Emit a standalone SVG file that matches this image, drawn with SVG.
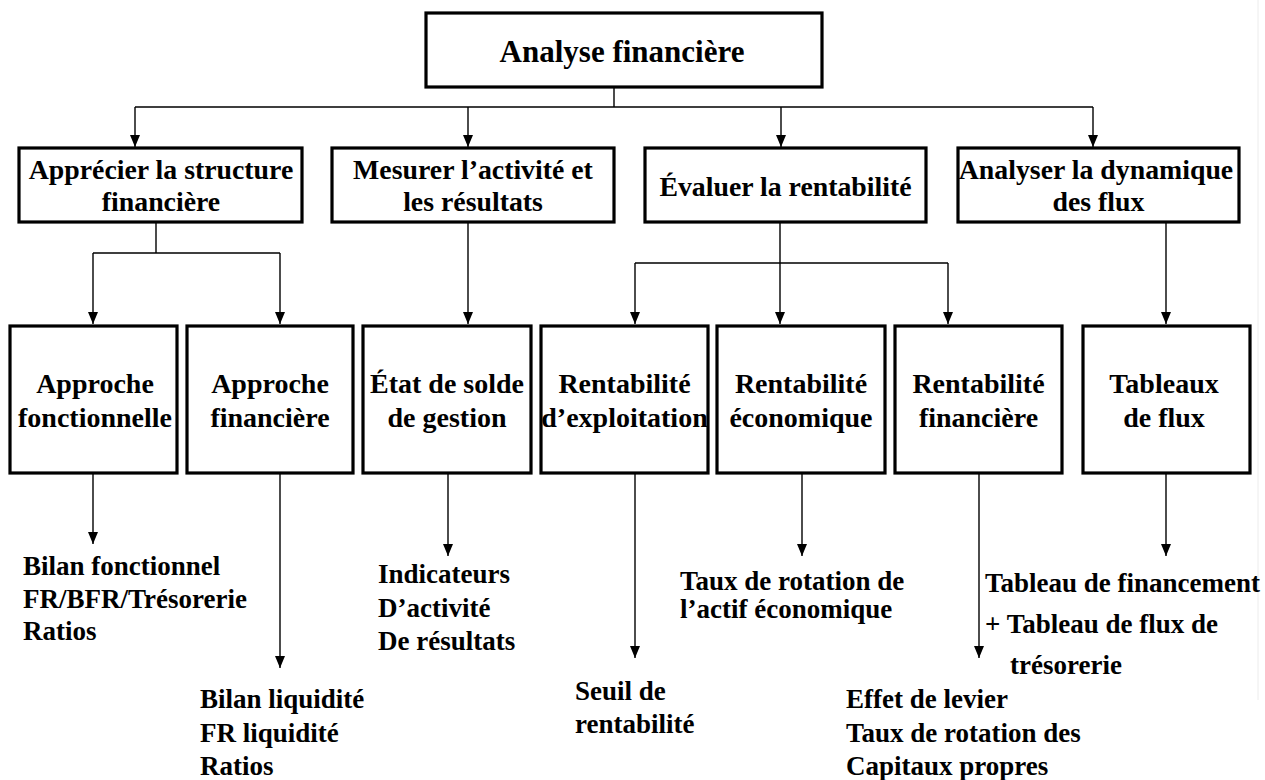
<svg xmlns="http://www.w3.org/2000/svg" width="1265" height="780" viewBox="0 0 1265 780">
<style>
  .box { fill: #ffffff; stroke: #000000; stroke-width: 3.2; }
  .t { font-family: 'Liberation Serif', 'DejaVu Serif', serif; font-weight: bold; fill: #000000; }
  .top { font-size: 31px; text-anchor: middle; }
  .r2 { font-size: 27.8px; text-anchor: middle; }
  .r3 { font-size: 28px; text-anchor: middle; }
  .leaf { font-size: 27px; }
  .conn { fill: none; stroke: #000000; stroke-width: 1.4; }
  .arr { marker-end: url(#ah); }
</style>
<defs>
  <marker id="ah" markerUnits="userSpaceOnUse" markerWidth="12" markerHeight="10" refX="12" refY="5" orient="auto" viewBox="0 0 12 10">
    <path d="M0,0 L12,5 L0,10 z" fill="#000000"/>
  </marker>
</defs>
<rect x="0" y="0" width="1265" height="780" fill="#ffffff"/>
<line x1="1258" y1="0" x2="1258" y2="700" stroke="#ececec" stroke-width="1"/>

<g id="connectors">
  <path class="conn" d="M614,87 V107 M135,107 H1093"/>
  <path class="conn arr" d="M135,107 V147"/>
  <path class="conn arr" d="M468,107 V147"/>
  <path class="conn arr" d="M781,107 V147"/>
  <path class="conn arr" d="M1093,107 V147"/>
  <path class="conn" d="M156,222 V253 M93,253 H280"/>
  <path class="conn arr" d="M93,253 V324"/>
  <path class="conn arr" d="M280,253 V324"/>
  <path class="conn arr" d="M468,222 V324"/>
  <path class="conn" d="M780,222 V263 M635,263 H948"/>
  <path class="conn arr" d="M635,263 V324"/>
  <path class="conn arr" d="M780,263 V324"/>
  <path class="conn arr" d="M948,263 V324"/>
  <path class="conn arr" d="M1166,222 V324"/>
  <path class="conn arr" d="M93,473 V544"/>
  <path class="conn arr" d="M280,473 V668"/>
  <path class="conn arr" d="M448,473 V556"/>
  <path class="conn arr" d="M635,473 V658"/>
  <path class="conn arr" d="M802,473 V556"/>
  <path class="conn arr" d="M979,473 V658"/>
  <path class="conn arr" d="M1166,473 V556"/>
</g>

<g id="n-analyse">
  <rect class="box" x="426" y="13" width="396" height="74"/>
  <text class="t top" x="622" y="62">Analyse financière</text>
</g>

<g id="n-structure">
  <rect class="box" x="19" y="148" width="283" height="74"/>
  <text class="t r2" x="161" y="179">Apprécier la structure</text>
  <text class="t r2" x="161" y="211">financière</text>
</g>
<g id="n-activite">
  <rect class="box" x="332" y="148" width="282" height="74"/>
  <text class="t r2" x="473" y="179">Mesurer l’activité et</text>
  <text class="t r2" x="473" y="211">les résultats</text>
</g>
<g id="n-rentabilite">
  <rect class="box" x="645" y="148" width="281" height="74"/>
  <text class="t r2" x="785.5" y="196">Évaluer la rentabilité</text>
</g>
<g id="n-flux">
  <rect class="box" x="958" y="148" width="281" height="74"/>
  <text class="t r2" x="1096" y="179">Analyser la dynamique</text>
  <text class="t r2" x="1098.5" y="211">des flux</text>
</g>

<g id="n-fonctionnelle">
  <rect class="box" x="10" y="326" width="167" height="147"/>
  <text class="t r3" x="95" y="393">Approche</text>
  <text class="t r3" x="95" y="427">fonctionnelle</text>
</g>
<g id="n-financiere">
  <rect class="box" x="187" y="326" width="166" height="147"/>
  <text class="t r3" x="270" y="393">Approche</text>
  <text class="t r3" x="270" y="427">financière</text>
</g>
<g id="n-sig">
  <rect class="box" x="363" y="326" width="168" height="147"/>
  <text class="t r3" x="447" y="393">État de solde</text>
  <text class="t r3" x="447" y="427">de gestion</text>
</g>
<g id="n-exploitation">
  <rect class="box" x="541" y="326" width="167" height="147"/>
  <text class="t r3" x="624.5" y="393">Rentabilité</text>
  <text class="t r3" x="624.5" y="427">d’exploitation</text>
</g>
<g id="n-economique">
  <rect class="box" x="717" y="326" width="168" height="147"/>
  <text class="t r3" x="801" y="393">Rentabilité</text>
  <text class="t r3" x="801" y="427">économique</text>
</g>
<g id="n-rfinanciere">
  <rect class="box" x="895" y="326" width="167" height="147"/>
  <text class="t r3" x="978.5" y="393">Rentabilité</text>
  <text class="t r3" x="978.5" y="427">financière</text>
</g>
<g id="n-tableaux">
  <rect class="box" x="1083" y="326" width="167" height="147"/>
  <text class="t r3" x="1164" y="393">Tableaux</text>
  <text class="t r3" x="1164" y="427">de flux</text>
</g>

<g id="l-fonctionnelle">
  <text class="t leaf" x="23" y="575">Bilan fonctionnel</text>
  <text class="t leaf" x="23" y="608">FR/BFR/Trésorerie</text>
  <text class="t leaf" x="23" y="640">Ratios</text>
</g>
<g id="l-financiere">
  <text class="t leaf" x="200" y="708">Bilan liquidité</text>
  <text class="t leaf" x="200" y="742">FR liquidité</text>
  <text class="t leaf" x="200" y="775">Ratios</text>
</g>
<g id="l-sig">
  <text class="t leaf" x="378" y="583">Indicateurs</text>
  <text class="t leaf" x="378" y="617">D’activité</text>
  <text class="t leaf" x="378" y="650">De résultats</text>
</g>
<g id="l-exploitation">
  <text class="t leaf" x="575" y="700">Seuil de</text>
  <text class="t leaf" x="575" y="733">rentabilité</text>
</g>
<g id="l-economique">
  <text class="t leaf" x="680" y="590">Taux de rotation de</text>
  <text class="t leaf" x="680" y="618">l’actif économique</text>
</g>
<g id="l-rfinanciere">
  <text class="t leaf" x="846" y="708">Effet de levier</text>
  <text class="t leaf" x="846" y="742">Taux de rotation des</text>
  <text class="t leaf" x="846" y="775">Capitaux propres</text>
</g>
<g id="l-tableaux">
  <text class="t leaf" x="985" y="592">Tableau de financement</text>
  <text class="t leaf" x="985" y="633">+ Tableau de flux de</text>
  <text class="t leaf" x="1010" y="674">trésorerie</text>
</g>
</svg>
